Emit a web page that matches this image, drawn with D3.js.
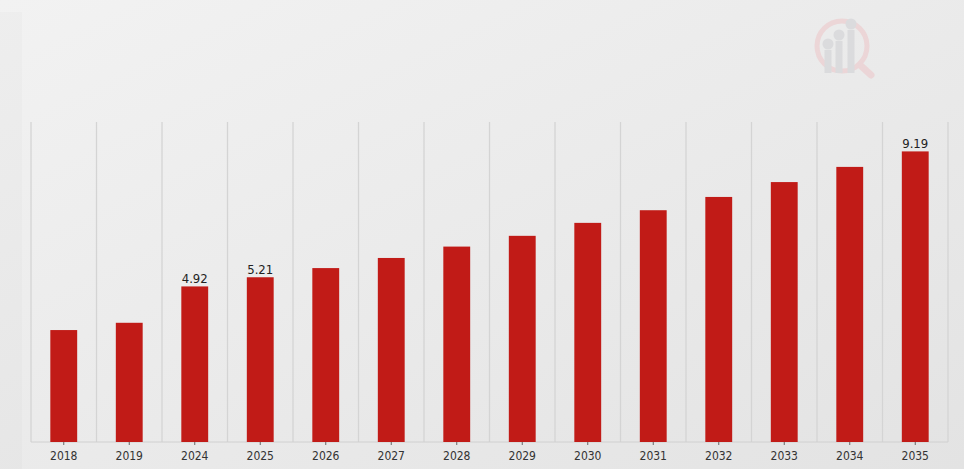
<!DOCTYPE html>
<html><head><meta charset="utf-8">
<script src="https://cdn.jsdelivr.net/npm/d3@7"></script>
<style>html,body{margin:0;padding:0;overflow:hidden;}</style>
</head><body>
<script>
const years = ["2018","2019","2024","2025","2026","2027","2028","2029","2030","2031","2032","2033","2034","2035"];
const values = [3.54, 3.77, 4.92, 5.21, 5.50, 5.82, 6.18, 6.52, 6.93, 7.33, 7.75, 8.22, 8.70, 9.19];
const labelled = ["2024","2025","2035"];

const W = 964, H = 469;
const FONT = "'DejaVu Sans Condensed', 'DejaVu Sans', sans-serif";
const svg = d3.select("body").append("svg").attr("width", W).attr("height", H);
const defs = svg.append("defs");
const g = defs.append("linearGradient").attr("id","bg").attr("x1","0").attr("y1","0").attr("x2","1").attr("y2","1");
g.append("stop").attr("offset","0").attr("stop-color","#f2f2f2");
g.append("stop").attr("offset","1").attr("stop-color","#e3e3e3");
svg.append("rect").attr("width",W).attr("height",H).attr("fill","url(#bg)");
svg.append("rect").attr("x",0).attr("y",12).attr("width",22).attr("height",H-12).attr("fill","#000").attr("opacity",0.015);

// watermark
const wm = svg.append("g").attr("transform","translate(842,46)").attr("opacity",0.35);
wm.append("circle").attr("r",25).attr("fill","none").attr("stroke","#eeb0b4").attr("stroke-width",5);
wm.append("line").attr("x1",18).attr("y1",19).attr("x2",29).attr("y2",29).attr("stroke","#eeb0b4").attr("stroke-width",7).attr("stroke-linecap","round");
[[-14,-2],[-3,-11],[9,-22]].forEach(([xx,yt])=>{
  wm.append("line").attr("x1",xx).attr("x2",xx).attr("y1",yt+6).attr("y2",27).attr("stroke","#bfc0c6").attr("stroke-width",7);
  wm.append("circle").attr("cx",xx).attr("cy",yt).attr("r",5.5).attr("fill","#bfc0c6");
});

const x = d3.scaleBand().domain(years).range([31, 948]).paddingInner(0.59).paddingOuter(0.295);
const y = d3.scaleLinear().domain([0, 10.12]).range([442, 122]);

const band = (948-31)/years.length;
const gridPos = d3.range(years.length+1).map(i => 31 + i*band);
svg.append("g").selectAll("line").data(gridPos).join("line")
  .attr("x1",d=>d).attr("x2",d=>d).attr("y1",122).attr("y2",442)
  .attr("stroke","#d4d4d4").attr("stroke-width",1.3);

svg.append("line").attr("x1",31).attr("x2",948).attr("y1",442).attr("y2",442).attr("stroke","#d0d0d0");

svg.append("g").selectAll("rect").data(years).join("rect")
  .attr("x",d=>x(d)).attr("width",x.bandwidth())
  .attr("y",(d,i)=>y(values[i])).attr("height",(d,i)=>y(0)-y(values[i]))
  .attr("fill","#c11b17");

const ax = svg.append("g").attr("transform","translate(0,442)")
  .call(d3.axisBottom(x).tickSize(3).tickPadding(6));
ax.select(".domain").remove();
ax.selectAll(".tick line").attr("stroke","#666");
ax.selectAll("text").attr("font-family",FONT).attr("font-size",12).attr("fill","#333");

svg.append("g").selectAll("text").data(years.filter(d=>labelled.includes(d))).join("text")
  .attr("x",d=>x(d)+x.bandwidth()/2).attr("y",d=>y(values[years.indexOf(d)])-3)
  .attr("text-anchor","middle").attr("font-family",FONT).attr("font-size",13).attr("fill","#222")
  .text(d=>values[years.indexOf(d)].toFixed(2));
</script>
</body></html>
